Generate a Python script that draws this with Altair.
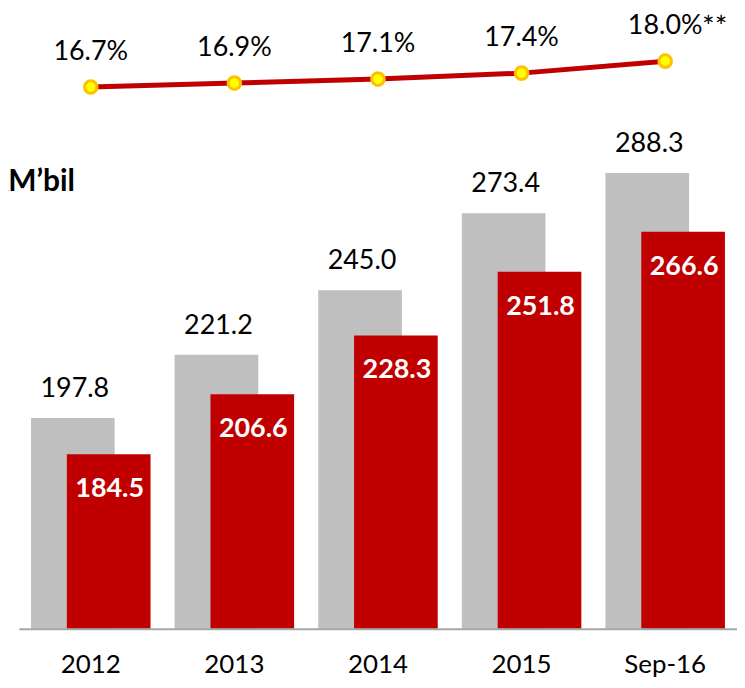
import altair as alt
import pandas as pd

categories = ["2012", "2013", "2014", "2015", "Sep-16"]
gray_values = [197.8, 221.2, 245.0, 273.4, 288.3]
red_values = [184.5, 206.6, 228.3, 251.8, 266.6]
pct_values = [16.7, 16.9, 17.1, 17.4, 18.0]
pct_suffix = ["", "", "", "", "**"]
unit_label = ["RM’bil"]

df = pd.DataFrame({
    "cat": categories,
    "gray": gray_values,
    "red": red_values,
    "pct": pct_values,
    "suffix": pct_suffix,
})
df["pct_label"] = [f"{v:.1f}%" for v in pct_values]

FONT = "Lato"
GRAY = "#BFBFBF"
RED = "#C00000"

x = alt.X("cat:N", sort=categories, title=None,
          scale=alt.Scale(paddingInner=0, paddingOuter=0),
          axis=alt.Axis(labelAngle=0, ticks=False, domainColor="#A6A6A6",
                        domainWidth=2, labelFont=FONT, labelFontSize=26,
                        labelColor="#000000", labelPadding=44,
                        labelBaseline="alphabetic", grid=False, zindex=1))

bar_scale = alt.Scale(domain=[120, 344.3], zero=False, nice=False)
line_scale = alt.Scale(domain=[-10.5, 20.0], zero=False, nice=False)

base = alt.Chart(df)

gray_bar = base.mark_bar(color=GRAY, width=84, xOffset=-18, clip=True).encode(
    x=x, y=alt.Y("gray:Q", scale=bar_scale, axis=None))
red_bar = base.mark_bar(color=RED, width=84, xOffset=18, clip=True).encode(
    x=x, y=alt.Y("red:Q", scale=bar_scale, axis=None))

gray_text = base.mark_text(font=FONT, fontSize=27, color="#000000", dx=-16,
                           dy=-21, baseline="alphabetic").encode(
    x=x, y=alt.Y("gray:Q", scale=bar_scale, axis=None),
    text=alt.Text("gray:Q", format=".1f"))
red_text = base.mark_text(font=FONT, fontSize=27, fontWeight="bold",
                          color="#FFFFFF", dx=19, dy=43,
                          baseline="alphabetic").encode(
    x=x, y=alt.Y("red:Q", scale=bar_scale, axis=None),
    text=alt.Text("red:Q", format=".1f"))

line = base.mark_line(color=RED, strokeWidth=5).encode(
    x=x, y=alt.Y("pct:Q", scale=line_scale, axis=None))
points = base.mark_point(filled=True, fill="#FFFF00", stroke="#FFC000",
                         strokeWidth=3, size=160, opacity=1,
                         shape="circle").encode(
    x=x, y=alt.Y("pct:Q", scale=line_scale, axis=None))
pct_text = base.mark_text(font=FONT, fontSize=27, color="#000000", dy=-27,
                          baseline="alphabetic").encode(
    x=x, y=alt.Y("pct:Q", scale=line_scale, axis=None),
    text="pct_label:N")
suffix_text = base.mark_text(font=FONT, fontSize=30, color="#000000", dy=-24,
                             dx=37, align="left",
                             baseline="alphabetic").encode(
    x=x, y=alt.Y("pct:Q", scale=line_scale, axis=None),
    text="suffix:N")

unit = alt.Chart(pd.DataFrame({"t": unit_label})).mark_text(
    font=FONT, fontSize=30, fontWeight="bold", color="#000000",
    align="left", baseline="alphabetic").encode(
    x=alt.value(-30), y=alt.value(170), text="t:N")

bars = alt.layer(gray_bar, red_bar, gray_text, red_text)
lines = alt.layer(line, points, pct_text, suffix_text)

chart = alt.layer(bars, lines, unit).resolve_scale(y="independent").properties(
    width=721, height=610,
    padding={"left": 11, "top": 12, "right": 0, "bottom": 50},
    autosize=alt.AutoSizeParams(type="none"),
).configure_view(stroke=None)

chart.save("out.html", embed_options={"renderer": "svg", "actions": False})
